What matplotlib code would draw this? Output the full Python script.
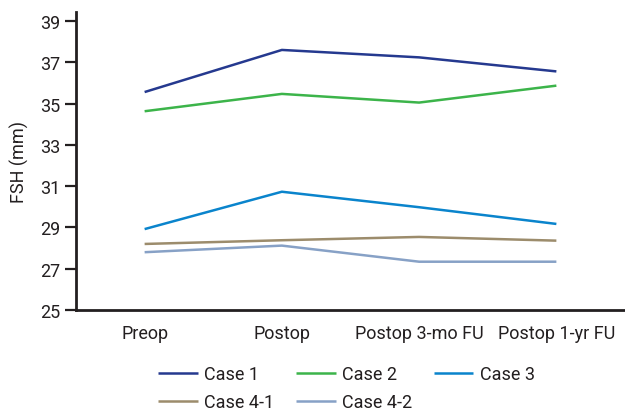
import numpy as np
import matplotlib
matplotlib.use('Agg')
from matplotlib import pyplot as plt

stages = ['Preop', 'Postop', 'Postop 3-mo FU', 'Postop 1-yr FU']
case1 = [35.56, 37.6, 37.24, 36.56]
case2 = [34.63, 35.47, 35.05, 35.87]
case3 = [28.92, 30.73, 29.98, 29.17]
case41 = [28.2, 28.38, 28.54, 28.36]
case42 = [27.8, 28.12, 27.34, 27.34]
names = ['Case 1', 'Case 2', 'Case 3', 'Case 4-1', 'Case 4-2']
colors = ['#25398f', '#3cb44a', '#0a84cc', '#9c8c6c', '#87a1c6']

plt.rcParams['font.family'] = ['Roboto', 'DejaVu Sans']
ink = '#231f20'

fig = plt.figure(figsize=(6.25, 4.14), dpi=100)
ax = fig.add_axes([76 / 625, 1 - 311 / 414, 1 - 76 / 625, (311 - 13) / 414])

x = np.arange(len(stages))
lines = []
for vals, name, c in zip([case1, case2, case3, case41, case42], names, colors):
    ln, = ax.plot(x, vals, color=c, lw=1.8, label=name, solid_capstyle='butt')
    lines.append(ln)

ax.set_xlim(-0.5, 3.5)
ax.set_ylim(25, 25 + (311 - 13) / 20.64)
ax.set_yticks(np.arange(25, 40, 2))
ax.set_xticks(x)
ax.set_xticklabels(stages)
ax.tick_params(axis='y', direction='out', length=8, width=1.6, color=ink,
               labelsize=13, labelcolor=ink, pad=3)
ax.tick_params(axis='x', length=0, labelsize=13, labelcolor=ink, pad=10)
for s in ['top', 'right']:
    ax.spines[s].set_visible(False)
for s in ['left', 'bottom']:
    ax.spines[s].set_linewidth(2)
    ax.spines[s].set_color(ink)
ax.set_ylabel('FSH (mm)', fontsize=13, color=ink, labelpad=8)

order = [0, 3, 1, 4, 2]
fig.legend([lines[i] for i in order], [names[i] for i in order], ncol=3,
           loc='upper left', bbox_to_anchor=(158 / 625, 1 - 366 / 414),
           frameon=False, fontsize=13, handlelength=2.2, handletextpad=0.35,
           columnspacing=1.2, labelspacing=0.58, borderpad=0, borderaxespad=0,
           labelcolor=ink)

plt.savefig('out.png', dpi=100)
plt.close()
